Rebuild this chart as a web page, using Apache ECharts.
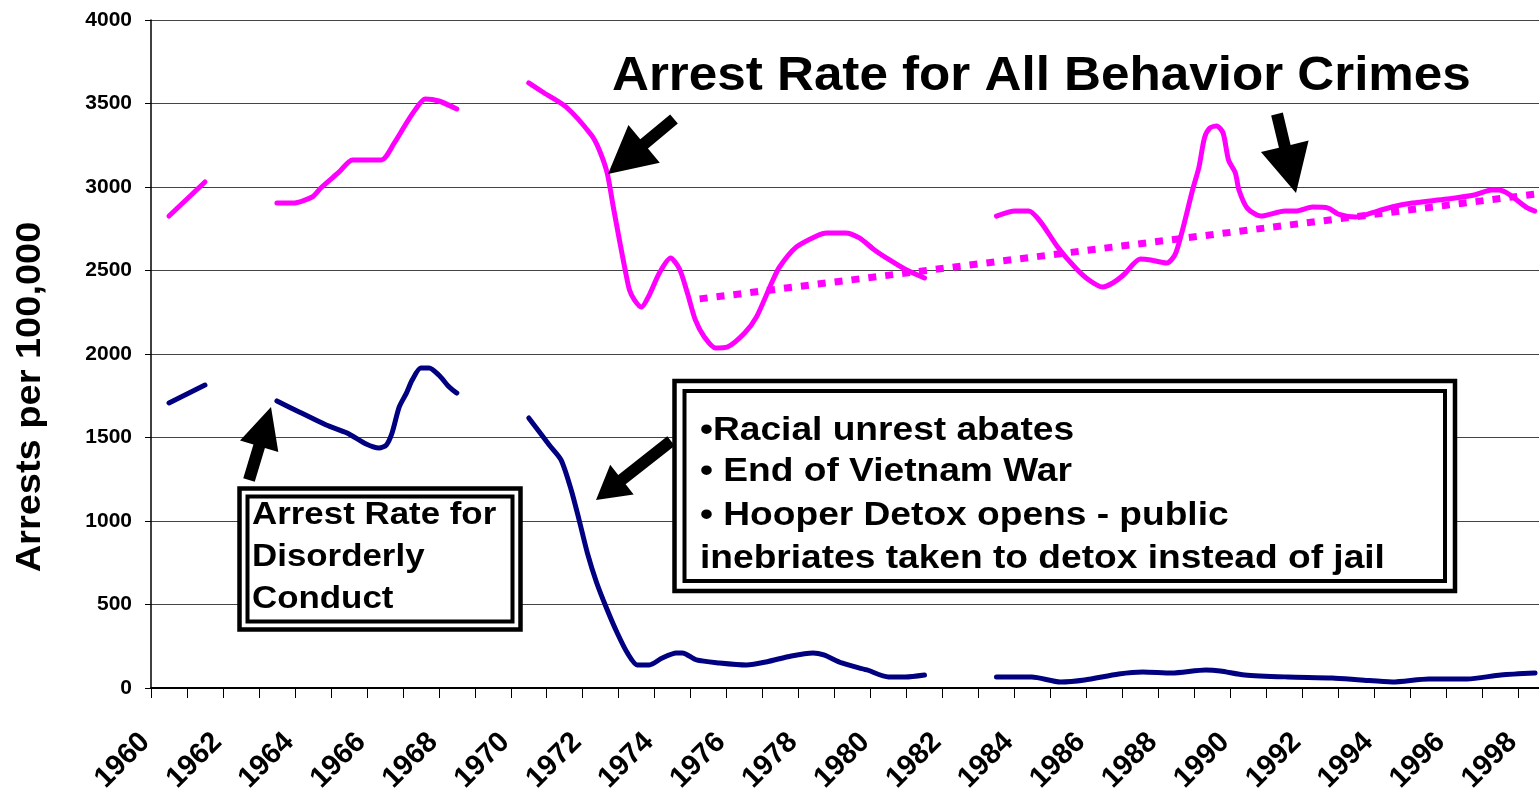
<!DOCTYPE html>
<html>
<head>
<meta charset="utf-8">
<script src="https://cdn.jsdelivr.net/npm/echarts@6/dist/echarts.min.js"></script>
<style>html,body{margin:0;padding:0;background:#fff}#c{width:1539px;height:796px}</style>
</head>
<body>
<div id="c"></div>
<script>
// ---- data (year, arrests per 100,000) ----
const pinkSeg1 = [[1960.5, 2826], [1961.5, 3030]];
const pinkSeg2 = [[1963.5, 2904], [1963.95, 2904], [1964.48, 2940], [1964.72, 2994], [1965.23, 3090], [1965.6, 3162], [1966.4, 3162], [1966.76, 3263], [1967.1, 3383], [1967.34, 3461], [1967.62, 3527], [1968.0, 3515], [1968.5, 3467]];
const pinkSeg3 = [[1970.5, 3623], [1970.93, 3563], [1971.54, 3479], [1972.24, 3311], [1972.46, 3222], [1972.68, 3084], [1972.85, 2880], [1973.02, 2683], [1973.18, 2503], [1973.3, 2383], [1973.44, 2323], [1973.63, 2281], [1973.85, 2353], [1974.13, 2485], [1974.44, 2575], [1974.69, 2509], [1974.91, 2365], [1975.13, 2204], [1975.38, 2102], [1975.69, 2036], [1976.02, 2042], [1976.5, 2126], [1976.83, 2222], [1977.25, 2425], [1977.47, 2521], [1977.94, 2641], [1978.5, 2707], [1978.78, 2725], [1979.3, 2725], [1979.69, 2695], [1980.11, 2623], [1980.53, 2563], [1980.95, 2509], [1981.5, 2455]];
const pinkSeg4 = [[1983.5, 2826], [1984.02, 2856], [1984.4, 2856], [1984.73, 2790], [1985.2, 2641], [1985.7, 2515], [1986.07, 2443], [1986.45, 2401], [1986.73, 2425], [1987.03, 2473], [1987.5, 2569], [1987.79, 2563], [1988.23, 2545], [1988.46, 2593], [1988.65, 2725], [1988.95, 2982], [1989.13, 3120], [1989.28, 3293], [1989.43, 3353], [1989.62, 3365], [1989.8, 3323], [1989.95, 3162], [1990.14, 3084], [1990.24, 2982], [1990.47, 2874], [1990.85, 2826], [1991.52, 2856], [1991.81, 2856], [1992.29, 2880], [1992.72, 2874], [1993.0, 2838], [1993.49, 2820], [1993.73, 2832], [1994.49, 2880], [1995.06, 2904], [1996.02, 2928], [1996.78, 2952], [1997.26, 2982], [1997.46, 2982], [1997.74, 2958], [1998.22, 2880], [1998.46, 2856]];

const blueSeg1 = [[1960.5, 1707], [1961.5, 1814]];
const blueSeg2 = [[1963.5, 1719], [1964.12, 1653], [1964.87, 1575], [1965.45, 1527], [1965.98, 1461], [1966.34, 1437], [1966.54, 1455], [1966.7, 1527], [1966.9, 1683], [1967.1, 1766], [1967.26, 1844], [1967.5, 1916], [1967.73, 1916], [1968.0, 1874], [1968.29, 1802], [1968.5, 1766]];
const blueSeg3 = [[1970.5, 1617], [1971.07, 1455], [1971.4, 1365], [1971.68, 1186], [1971.9, 1006], [1972.13, 808], [1972.38, 635], [1972.66, 479], [1972.96, 329], [1973.24, 210], [1973.52, 138], [1973.85, 138], [1974.21, 180], [1974.6, 210], [1974.77, 210], [1975.16, 168], [1975.8, 150], [1976.55, 138], [1977.1, 156], [1977.8, 192], [1978.4, 210], [1978.7, 198], [1979.2, 150], [1979.9, 108], [1980.5, 66], [1980.97, 66], [1981.5, 78]];
const blueSeg4 = [[1983.5, 66], [1984.48, 66], [1985.28, 36], [1985.95, 48], [1986.9, 84], [1987.57, 96], [1988.37, 90], [1989.32, 108], [1989.72, 102], [1990.4, 78], [1991.6, 66], [1992.83, 60], [1993.63, 48], [1994.5, 36], [1995.52, 54], [1996.58, 54], [1997.52, 78], [1998.47, 90]];

const trendLine = [[1975.25, 2330], [1998.58, 2960]];

const yearMin = 1960, yearMax = 1998.58;
const yTicks = { min: 0, max: 4000, step: 500 };

const titleText = 'Arrest Rate for All Behavior Crimes';
const box1Lines = ['Arrest Rate for', 'Disorderly', 'Conduct'];
const box2Lines = ['\u2022Racial unrest abates', '\u2022 End of Vietnam War', '\u2022 Hooper Detox opens - public', 'inebriates taken to detox instead of jail'];
const yAxisTitle = 'Arrests per 100,000';

// ---- chart ----
const FONT = '"Liberation Sans", Arial, sans-serif';
const PINK = '#FF00FF', NAVY = '#000080';

function seg(data, color) {
  return { type: 'line', data: data, showSymbol: false, smooth: 0.25, silent: true,
    lineStyle: { color: color, width: 5, cap: 'round', join: 'round' }, z: 3 };
}

function arrow(tail, tip, sw, hw, hl) {
  const dx = tip[0] - tail[0], dy = tip[1] - tail[1];
  const L = Math.hypot(dx, dy), ux = dx / L, uy = dy / L, px = -uy, py = ux;
  const bx = tip[0] - ux * hl, by = tip[1] - uy * hl;
  const pts = [
    [tail[0] + px * sw / 2, tail[1] + py * sw / 2],
    [bx + px * sw / 2, by + py * sw / 2],
    [bx + px * hw / 2, by + py * hw / 2],
    [tip[0], tip[1]],
    [bx - px * hw / 2, by - py * hw / 2],
    [bx - px * sw / 2, by - py * sw / 2],
    [tail[0] - px * sw / 2, tail[1] - py * sw / 2]
  ];
  return { type: 'polygon', shape: { points: pts }, style: { fill: '#000' }, z: 10 };
}

function txt(s, x, y, size, sx, extra) {
  const o = { type: 'text', x: x, y: y, scaleX: sx || 1, z: 12,
    style: { text: s, x: 0, y: 0, fill: '#000', font: 'bold ' + size + 'px ' + FONT, verticalAlign: 'middle' } };
  return Object.assign(o, extra || {});
}

function dblBox(x, y, w, h, inset) {
  return [
    { type: 'rect', shape: { x: x, y: y, width: w, height: h }, style: { fill: '#fff', stroke: '#000', lineWidth: 4.5 }, z: 11 },
    { type: 'rect', shape: { x: x + inset, y: y + inset, width: w - 2 * inset, height: h - 2 * inset }, style: { fill: 'none', stroke: '#000', lineWidth: 4 }, z: 11 }
  ];
}

const series = [
  { type: 'line', data: trendLine, showSymbol: false, silent: true,
    lineStyle: { color: PINK, width: 7, type: [8, 9], cap: 'butt' }, z: 2 },
  seg(pinkSeg1, PINK), seg(pinkSeg2, PINK), seg(pinkSeg3, PINK), seg(pinkSeg4, PINK),
  seg(blueSeg1, NAVY), seg(blueSeg2, NAVY), seg(blueSeg3, NAVY), seg(blueSeg4, NAVY)
];

const yTitle = { type: 'text', x: 31, y: 397, rotation: Math.PI / 2, scaleY: 0.9, z: 12,
  style: { text: yAxisTitle, x: 0, y: 0, fill: '#000', font: 'bold 38px ' + FONT, align: 'center', verticalAlign: 'middle' } };

const graphics = []
  .concat(dblBox(239.5, 488.5, 281, 141, 8))
  .concat(dblBox(674.5, 381, 780.5, 210, 10))
  .concat([
    arrow([674, 119], [608, 174], 12, 49, 47),
    arrow([1277, 114], [1296, 193], 12, 49, 48),
    arrow([249, 480], [271, 407], 12, 40, 41),
    arrow([671, 441], [596, 500], 12, 38, 33),
    txt(titleText, 612, 77, 48, 1.066),
    txt(box1Lines[0], 252, 515, 32, 1.09),
    txt(box1Lines[1], 252, 557, 32, 1.09),
    txt(box1Lines[2], 252, 599, 32, 1.09),
    txt(box2Lines[0], 700, 431, 33, 1.125),
    txt(box2Lines[1], 700, 472, 33, 1.125),
    txt(box2Lines[2], 700, 516, 33, 1.125),
    txt(box2Lines[3], 700, 559, 33, 1.125),
    yTitle
  ]);

const chart = echarts.init(document.getElementById('c'), null, { renderer: 'canvas' });
chart.setOption({
  animation: false,
  backgroundColor: '#fff',
  grid: { left: 151, right: 0, top: 20, bottom: 108, containLabel: false },
  xAxis: {
    type: 'value', min: yearMin, max: yearMax, interval: 1,
    axisLine: { show: true, lineStyle: { color: '#000', width: 2 } },
    axisTick: { show: true, length: 10, lineStyle: { color: '#000', width: 1 } },
    splitLine: { show: false },
    axisLabel: {
      rotate: 45, margin: 44, padding: [0, 8, 0, 0], color: '#000', fontSize: 29, fontWeight: 'bold', fontFamily: FONT,
      showMaxLabel: false,
      formatter: function (v) { return (Math.abs(v - Math.round(v)) < 1e-6 && Math.round(v) % 2 === 0) ? String(Math.round(v)) : ''; }
    }
  },
  yAxis: {
    type: 'value', min: yTicks.min, max: yTicks.max, interval: yTicks.step,
    axisLine: { show: true, lineStyle: { color: '#000', width: 1.5 } },
    axisTick: { show: true, length: 6, lineStyle: { color: '#000' } },
    axisLabel: { margin: 19, color: '#000', fontSize: 21, fontWeight: 'bold', fontFamily: FONT,
      formatter: function (v) { return String(v); } },
    splitLine: { show: true, lineStyle: { color: '#444', width: 1 } }
  },
  series: series,
  graphic: graphics
});
</script>
</body>
</html>
